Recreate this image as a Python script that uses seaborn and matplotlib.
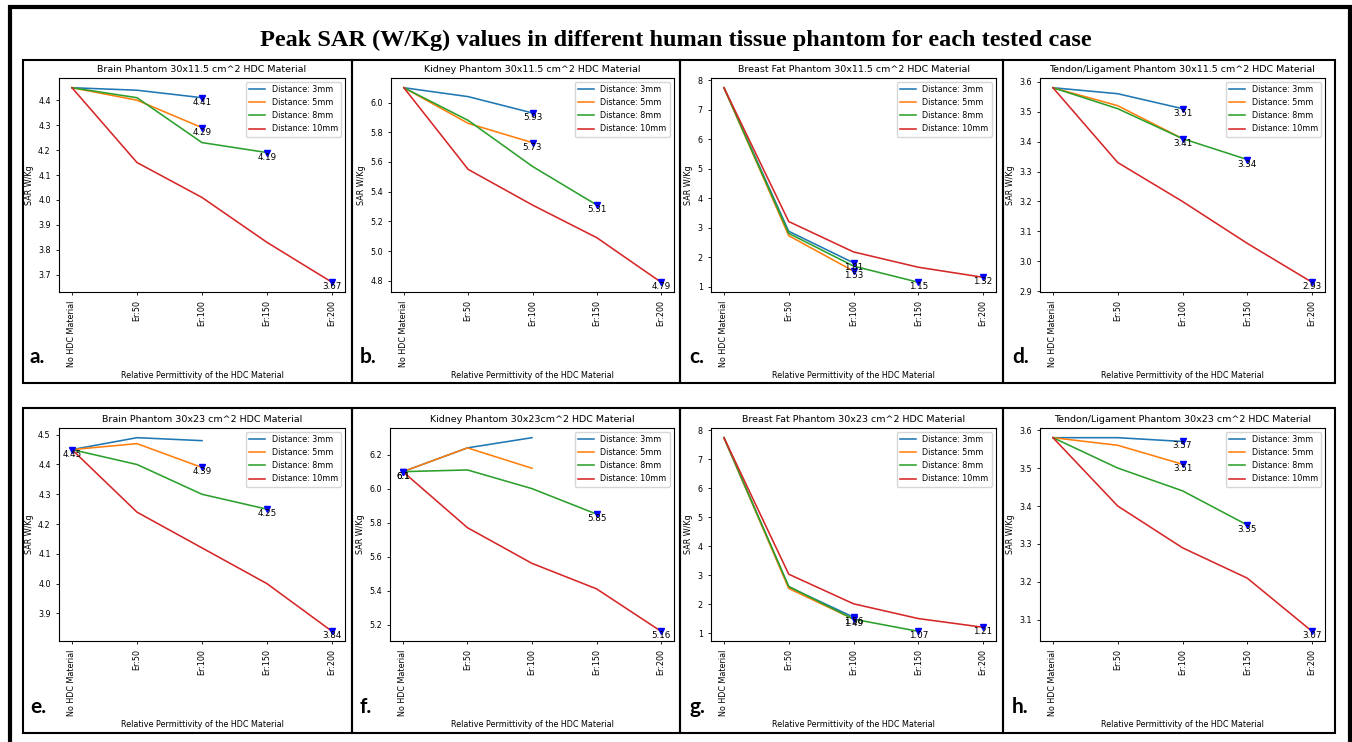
import matplotlib
matplotlib.use("Agg")
import matplotlib.pyplot as plt
from matplotlib.patches import Rectangle
import pandas as pd
import seaborn as sns

W, H = 1352, 742

categories = ["No HDC Material", "Er:50", "Er:100", "Er:150", "Er:200"]
distances = ["Distance: 3mm", "Distance: 5mm", "Distance: 8mm", "Distance: 10mm"]

# SAR values (W/Kg) per distance
brain_115 = [[4.45, 4.44, 4.41], [4.45, 4.40, 4.29],
             [4.45, 4.41, 4.23, 4.19], [4.45, 4.15, 4.01, 3.83, 3.67]]
kidney_115 = [[6.10, 6.04, 5.93], [6.10, 5.86, 5.73],
              [6.10, 5.88, 5.57, 5.31], [6.10, 5.55, 5.31, 5.09, 4.79]]
fat_115 = [[7.75, 2.88, 1.81], [7.75, 2.73, 1.53],
           [7.75, 2.81, 1.70, 1.15], [7.75, 3.21, 2.18, 1.66, 1.32]]
tendon_115 = [[3.58, 3.56, 3.51], [3.58, 3.52, 3.41],
              [3.58, 3.51, 3.41, 3.34], [3.58, 3.33, 3.20, 3.06, 2.93]]
brain_23 = [[4.45, 4.49, 4.48], [4.45, 4.47, 4.39],
            [4.45, 4.40, 4.30, 4.25], [4.45, 4.24, 4.12, 4.00, 3.84]]
kidney_23 = [[6.10, 6.24, 6.30], [6.10, 6.24, 6.12],
             [6.10, 6.11, 6.00, 5.85], [6.10, 5.77, 5.56, 5.41, 5.16]]
fat_23 = [[7.75, 2.60, 1.56], [7.75, 2.55, 1.49],
          [7.75, 2.62, 1.49, 1.07], [7.75, 3.04, 2.02, 1.51, 1.21]]
tendon_23 = [[3.58, 3.58, 3.57], [3.58, 3.56, 3.51],
             [3.58, 3.50, 3.44, 3.35], [3.58, 3.40, 3.29, 3.21, 3.07]]

titles = ["Brain Phantom 30x11.5 cm^2 HDC Material",
          "Kidney Phantom 30x11.5 cm^2 HDC Material",
          "Breast Fat Phantom 30x11.5 cm^2 HDC Material",
          "Tendon/Ligament Phantom 30x11.5 cm^2 HDC Material",
          "Brain Phantom 30x23 cm^2 HDC Material",
          "Kidney Phantom 30x23cm^2 HDC Material",
          "Breast Fat Phantom 30x23 cm^2 HDC Material",
          "Tendon/Ligament Phantom 30x23 cm^2 HDC Material"]
letters = ["a.", "b.", "c.", "d.", "e.", "f.", "g.", "h."]
panels = [brain_115, kidney_115, fat_115, tendon_115,
          brain_23, kidney_23, fat_23, tendon_23]

plt.rcParams.update({
    "font.size": 5.8,
    "axes.titlesize": 6.8,
    "axes.labelsize": 5.8,
    "xtick.labelsize": 5.8,
    "ytick.labelsize": 5.8,
    "legend.fontsize": 5.8,
    "xtick.major.size": 2.5,
    "ytick.major.size": 2.5,
    "xtick.major.width": 0.6,
    "ytick.major.width": 0.6,
    "axes.linewidth": 0.8,
    "axes.titlepad": 4,
    "axes.labelpad": 3,
})


def px_rect(x0, y0, x1, y1):
    return [x0 / W, 1 - y1 / H, (x1 - x0) / W, (y1 - y0) / H]


def draw_panel(ax, title, series):
    rows = []
    for dist, vals in zip(distances, series):
        for i, v in enumerate(vals):
            rows.append({"pos": i, "SAR": v, "dist": dist})
    df = pd.DataFrame(rows)
    sns.lineplot(data=df, x="pos", y="SAR", hue="dist", hue_order=distances,
                 palette=sns.color_palette("tab10", 4), sort=False,
                 linewidth=1.15, ax=ax)
    # mark the lowest value of each curve
    for vals in series:
        i = vals.index(min(vals))
        ax.plot(i, vals[i], marker="v", color="blue", ms=4, ls="none")
        ax.annotate(f"{vals[i]:g}", (i, vals[i]), ha="center", va="top",
                    fontsize=6.3)
    ax.set_xticks(range(len(categories)), categories, rotation=90)
    ax.set_xlabel("Relative Permittivity of the HDC Material")
    ax.set_ylabel("SAR W/Kg")
    ax.set_title(title)
    sns.move_legend(ax, "upper right", title=None, fontsize=5.8)


fig = plt.figure(figsize=(W / 100, H / 100), dpi=100)

cols = [(59, 345), (391, 674), (711, 996), (1040, 1325)]
rows_px = [(78, 292), (428, 641)]
letter_x = [30, 360, 689, 1012]
letter_y = [357, 707]

for k, (title, series) in enumerate(zip(titles, panels)):
    r, c = divmod(k, 4)
    x0, x1 = cols[c]
    if k == 5:
        x0 = 390
    y0, y1 = rows_px[r]
    ax = fig.add_axes(px_rect(x0, y0, x1, y1))
    draw_panel(ax, title, series)
    fig.text(letter_x[c] / W, 1 - letter_y[r] / H, letters[k],
             family="Lato", weight="bold", fontsize=15, ha="left", va="center")

# panel frames
box_x = [23, 352, 680, 1003, 1335]
box_y = [(60, 383), (408, 733)]
for y0, y1 in box_y:
    for c in range(4):
        fig.add_artist(Rectangle((box_x[c] / W, 1 - y1 / H),
                                 (box_x[c + 1] - box_x[c]) / W, (y1 - y0) / H,
                                 transform=fig.transFigure, fill=False,
                                 edgecolor="black", linewidth=1.5))

# outer border (cut off at the bottom)
fig.add_artist(Rectangle((10 / W, -10 / H), 1340 / W, (H + 10 - 6.5) / H,
                         transform=fig.transFigure, fill=False,
                         edgecolor="black", linewidth=3.0))

fig.text(0.4996, 1 - 40 / H,
         "Peak SAR (W/Kg) values in different human tissue phantom for each tested case",
         family="Liberation Serif", weight="bold", fontsize=17.5,
         ha="center", va="center")

fig.savefig("out.png", dpi=100)
